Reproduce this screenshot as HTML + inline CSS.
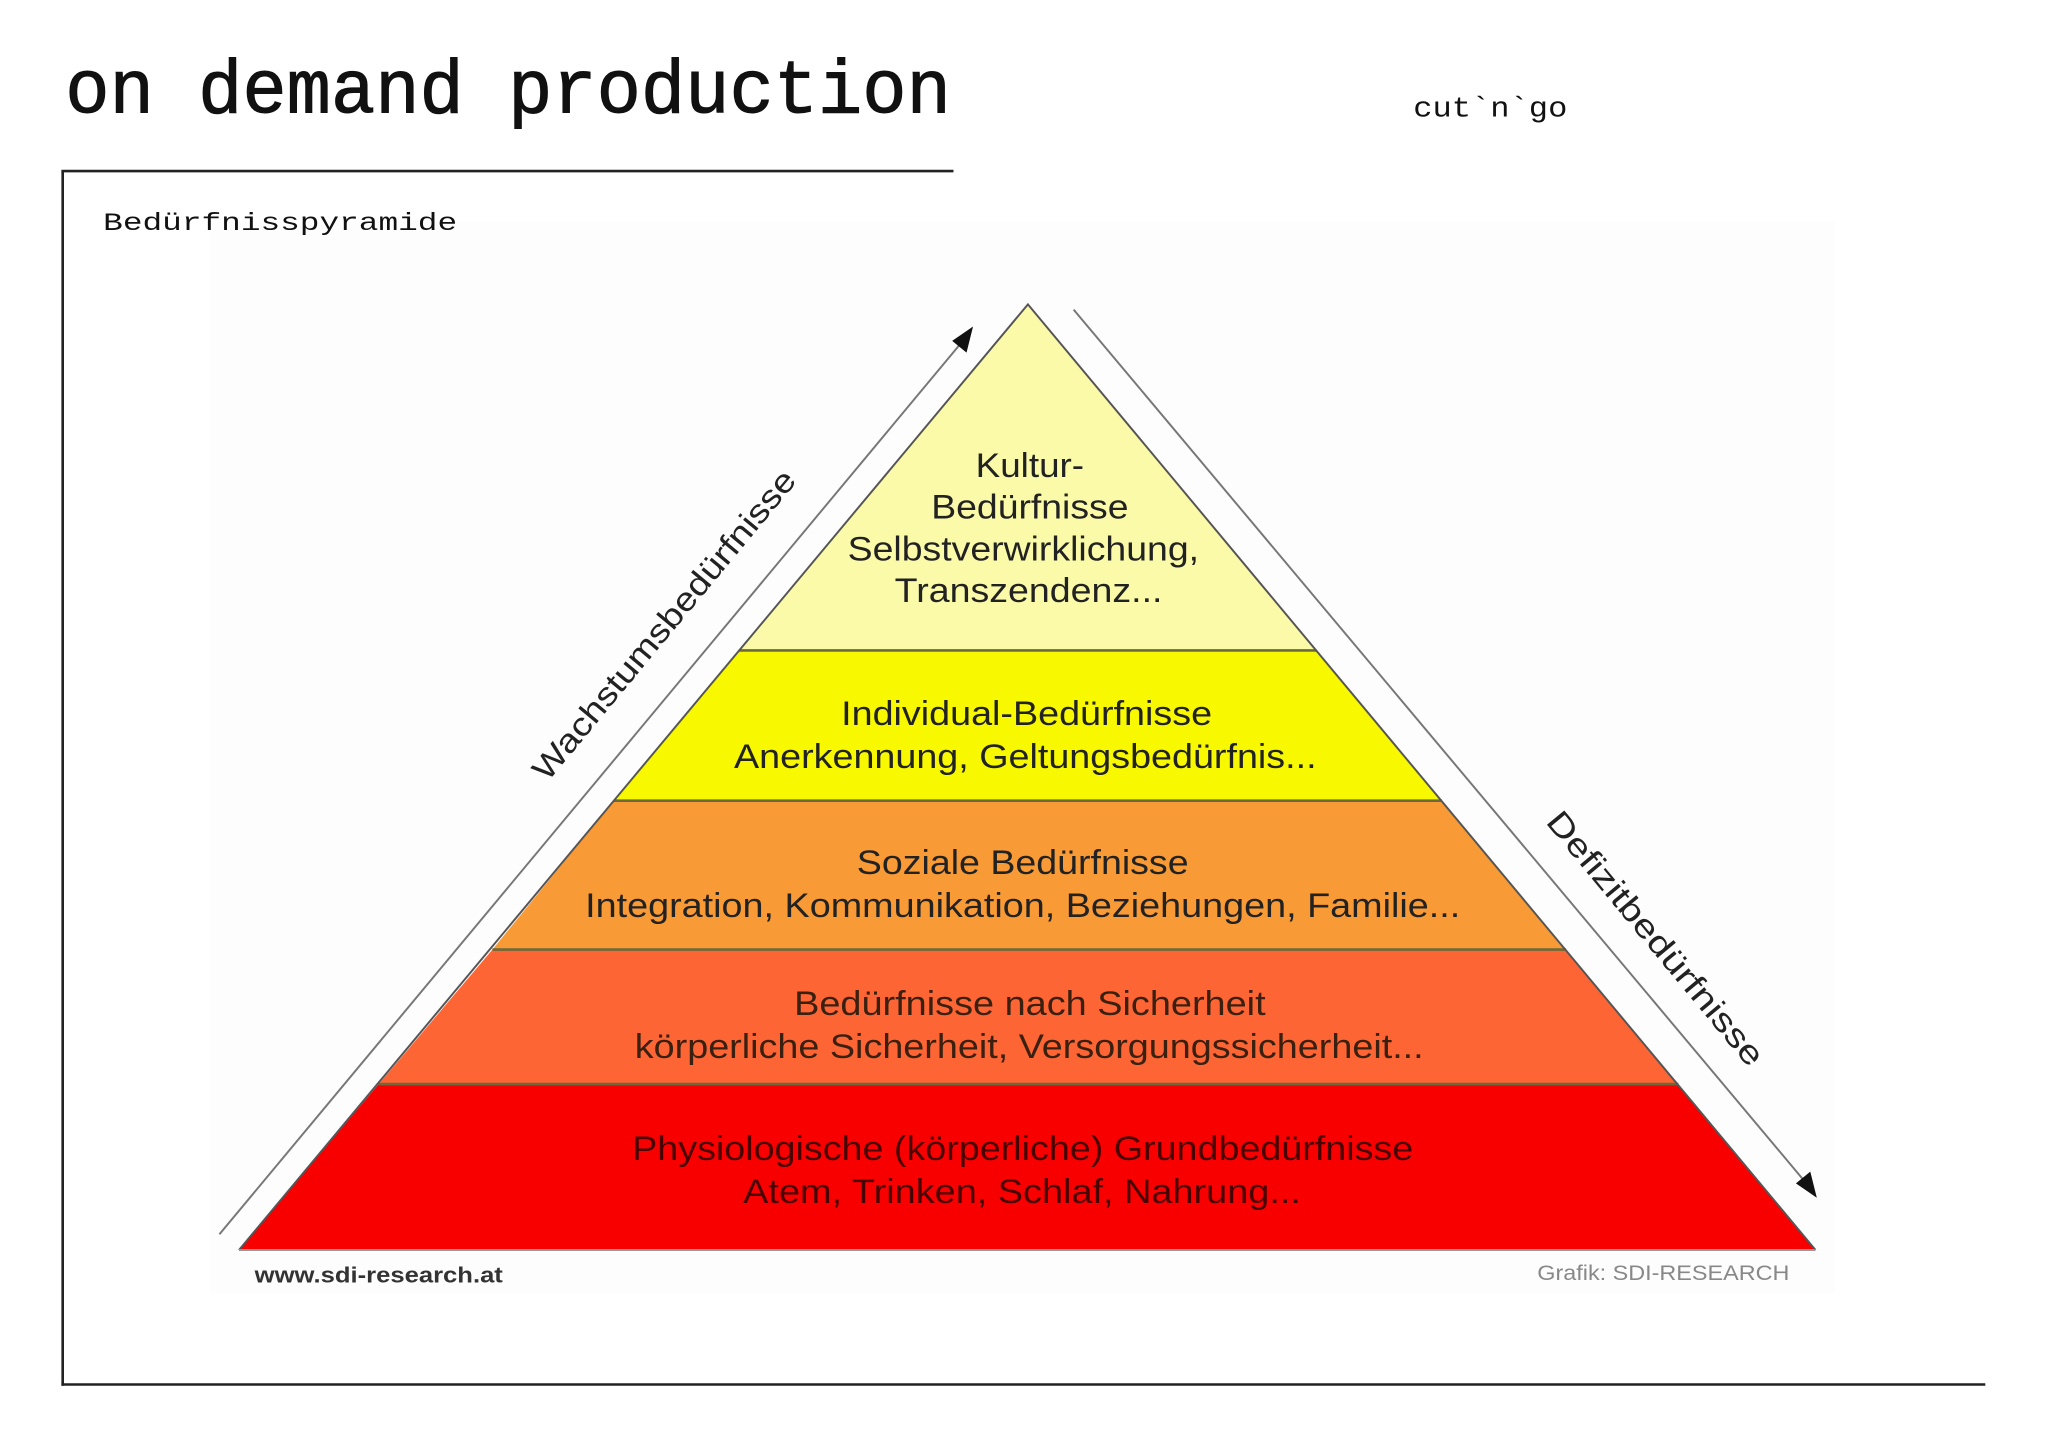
<!DOCTYPE html>
<html><head><meta charset="utf-8"><style>
html,body{margin:0;padding:0;background:#fff;}
svg{display:block;}
</style></head><body>
<svg width="2048" height="1448" viewBox="0 0 1568 1108.6" xmlns="http://www.w3.org/2000/svg">
<rect x="0" y="0" width="1568" height="1108.6" fill="#fff"/>
<rect x="160" y="170" width="1245" height="820" fill="#fdfdfd"/>
<text x="50" y="86" font-family="Liberation Mono, monospace" font-size="58" fill="#111" stroke="#111" stroke-width="0.8" textLength="678" lengthAdjust="spacingAndGlyphs">on demand production</text>
<text x="1082" y="89" font-family="Liberation Mono, monospace" font-size="22" fill="#111" textLength="118" lengthAdjust="spacingAndGlyphs">cut`n`go</text>
<line x1="47" y1="131" x2="730" y2="131" stroke="#222" stroke-width="2"/>
<line x1="48" y1="131" x2="48" y2="1061" stroke="#222" stroke-width="2"/>
<line x1="47" y1="1060" x2="1520" y2="1060" stroke="#222" stroke-width="2"/>
<text x="79" y="176" font-family="Liberation Mono, monospace" font-size="19" fill="#111" textLength="271" lengthAdjust="spacingAndGlyphs">Bedürfnisspyramide</text>

<polygon points="787,233 1008,498 566,498" fill="#fafaa8"/>
<polygon points="566,498 1008,498 1104,613 470,613" fill="#f8f800"/>
<polygon points="470,613 1104,613 1199,727 377,727" fill="#f89a35"/>
<polygon points="377,727 1199,727 1285,830 290,830" fill="#fe6535"/>
<polygon points="290,830 1285,830 1390,957 183,957" fill="#f80000"/>
<g stroke="#6b6a3a" stroke-width="2">
<line x1="566" y1="498" x2="1008" y2="498"/>
<line x1="470" y1="613" x2="1104" y2="613"/>
<line x1="377" y1="727" x2="1199" y2="727"/>
<line x1="290" y1="830" x2="1285" y2="830"/>
</g>
<polyline points="183,957 787,233 1390,957" fill="none" stroke="#555" stroke-width="1.5"/>
<line x1="183" y1="957" x2="1390" y2="957" stroke="#999" stroke-width="1.5"/>

<line x1="168" y1="945" x2="738" y2="260" stroke="#777" stroke-width="1.5"/>
<polygon points="745,250 740,270 729,261" fill="#111"/>
<line x1="822" y1="237" x2="1383" y2="906" stroke="#777" stroke-width="1.5"/>
<polygon points="1391,917 1375,906 1386,897" fill="#111"/>

<g font-family="Liberation Sans, Arial, sans-serif" fill="#222">
<text transform="translate(508,478) rotate(-50.3)" text-anchor="middle" y="9" font-size="25" textLength="300" lengthAdjust="spacingAndGlyphs">Wachstumsbedürfnisse</text>
<text transform="translate(1268,718) rotate(50.3)" text-anchor="middle" y="9" font-size="25" textLength="245" lengthAdjust="spacingAndGlyphs">Defizitbedürfnisse</text>
</g>

<g font-family="Liberation Sans, Arial, sans-serif" font-size="26" fill="#222">
<text x="747" y="365" textLength="83" lengthAdjust="spacingAndGlyphs">Kultur-</text>
<text x="713" y="397" textLength="151" lengthAdjust="spacingAndGlyphs">Bedürfnisse</text>
<text x="649" y="429" textLength="269" lengthAdjust="spacingAndGlyphs">Selbstverwirklichung,</text>
<text x="685" y="461" textLength="205" lengthAdjust="spacingAndGlyphs">Transzendenz...</text>
<text x="644" y="555" textLength="284" lengthAdjust="spacingAndGlyphs">Individual-Bedürfnisse</text>
<text x="562" y="588" textLength="446" lengthAdjust="spacingAndGlyphs">Anerkennung, Geltungsbedürfnis...</text>
<text x="656" y="669" textLength="254" lengthAdjust="spacingAndGlyphs">Soziale Bedürfnisse</text>
<text x="448" y="702" textLength="670" lengthAdjust="spacingAndGlyphs">Integration, Kommunikation, Beziehungen, Familie...</text>
<text x="608" y="777" textLength="361" lengthAdjust="spacingAndGlyphs" fill="#3a2010">Bedürfnisse nach Sicherheit</text>
<text x="486" y="810" textLength="604" lengthAdjust="spacingAndGlyphs" fill="#3a2010">körperliche Sicherheit, Versorgungssicherheit...</text>
<text x="484" y="888" textLength="598" lengthAdjust="spacingAndGlyphs" fill="#4a0000">Physiologische (körperliche) Grundbedürfnisse</text>
<text x="569" y="921" textLength="427" lengthAdjust="spacingAndGlyphs" fill="#4a0000">Atem, Trinken, Schlaf, Nahrung...</text>
</g>
<text x="195" y="982" font-family="Liberation Sans, Arial, sans-serif" font-size="17" font-weight="bold" fill="#333" textLength="190" lengthAdjust="spacingAndGlyphs">www.sdi-research.at</text>
<text x="1177" y="980" font-family="Liberation Sans, Arial, sans-serif" font-size="16" fill="#888" textLength="193" lengthAdjust="spacingAndGlyphs">Grafik: SDI-RESEARCH</text>
</svg>
</body></html>
